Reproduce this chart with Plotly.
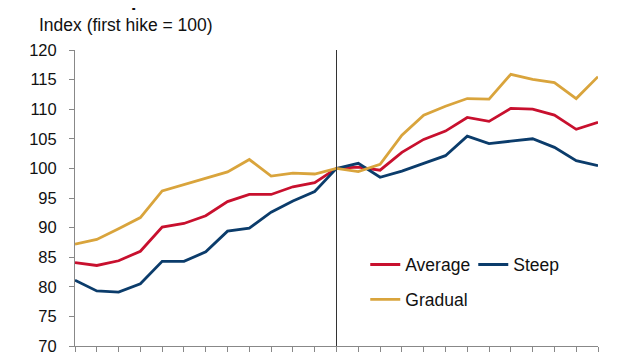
import plotly.graph_objects as go

periods = list(range(-12, 13))
average = [84.1, 83.6, 84.4, 86.0, 90.1, 90.7, 92.0, 94.4, 95.6, 95.6, 96.9, 97.6, 100.0,
           100.2, 99.7, 102.7, 104.9, 106.3, 108.6, 107.95, 110.15, 110.0, 109.0, 106.6, 107.8]
steep = [81.1, 79.3, 79.1, 80.5, 84.3, 84.3, 85.9, 89.4, 89.9, 92.6, 94.5, 96.1, 100.0,
         100.85, 98.5, 99.55, 100.85, 102.15, 105.45, 104.2, 104.6, 105.0, 103.55, 101.3, 100.45]
gradual = [87.2, 88.0, 89.8, 91.7, 96.2, 97.3, 98.4, 99.4, 101.5, 98.7, 99.2, 99.05, 100.0,
           99.45, 100.7, 105.6, 109.0, 110.5, 111.8, 111.7, 115.9, 115.05, 114.5, 111.8, 115.5]
y_ticks = [70, 75, 80, 85, 90, 95, 100, 105, 110, 115, 120]

RED = "#C8102E"
BLUE = "#0B3C6B"
GOLD = "#D9A43C"
FONT = "Liberation Sans, Arial, sans-serif"

fig = go.Figure()
fig.add_trace(go.Scatter(x=periods, y=average, name="Average", mode="lines",
                         line=dict(color=RED, width=2.8), legend="legend"))
fig.add_trace(go.Scatter(x=periods, y=steep, name="Steep", mode="lines",
                         line=dict(color=BLUE, width=2.8), legend="legend"))
fig.add_trace(go.Scatter(x=periods, y=gradual, name="Gradual", mode="lines",
                         line=dict(color=GOLD, width=2.8), legend="legend2"))

fig.add_shape(type="line", x0=0, x1=0, y0=0, y1=1, xref="x", yref="paper",
              line=dict(color="#333333", width=1))

fig.update_layout(
    width=640, height=360,
    margin=dict(l=67, r=50, t=42, b=22, autoexpand=False),
    paper_bgcolor="white", plot_bgcolor="white",
    font=dict(family=FONT, size=16, color="#111111"),
    showlegend=True,
    legend=dict(orientation="h", x=0.555, y=0.275, xanchor="left", yanchor="middle",
                font=dict(size=17.5), bgcolor="rgba(0,0,0,0)", traceorder="normal",
                itemwidth=30, entrywidth=63),
    legend2=dict(orientation="h", x=0.555, y=0.157, xanchor="left", yanchor="middle",
                 font=dict(size=17.5), bgcolor="rgba(0,0,0,0)", itemwidth=30),
    annotations=[
        dict(text="<b>Global equities around first Fed rate hikes</b>", x=0, y=1,
             xref="paper", yref="paper", showarrow=False, xanchor="left", yanchor="bottom",
             xshift=-36, yshift=38, font=dict(size=21, family=FONT, color="#111111")),
        dict(text="Index (first hike = 100)", x=0, y=1, xref="paper", yref="paper",
             xanchor="left", yanchor="bottom", xshift=-38, yshift=13, showarrow=False,
             font=dict(size=17.5, family=FONT, color="#111111")),
    ],
)

fig.update_xaxes(range=[-12, 12], showgrid=False, zeroline=False, showticklabels=False,
                 ticks="outside", ticklen=5, tickcolor="#888888", dtick=1, tick0=-12,
                 showline=True, linecolor="#888888", linewidth=1)
fig.update_yaxes(range=[70, 120], tickvals=y_ticks, showgrid=False, zeroline=False,
                 ticks="outside", ticklen=5, tickcolor="#888888", showline=True,
                 linecolor="#888888", linewidth=1, tickfont=dict(size=16.5),
                 ticklabelstandoff=9)

fig.write_html("out.html")
